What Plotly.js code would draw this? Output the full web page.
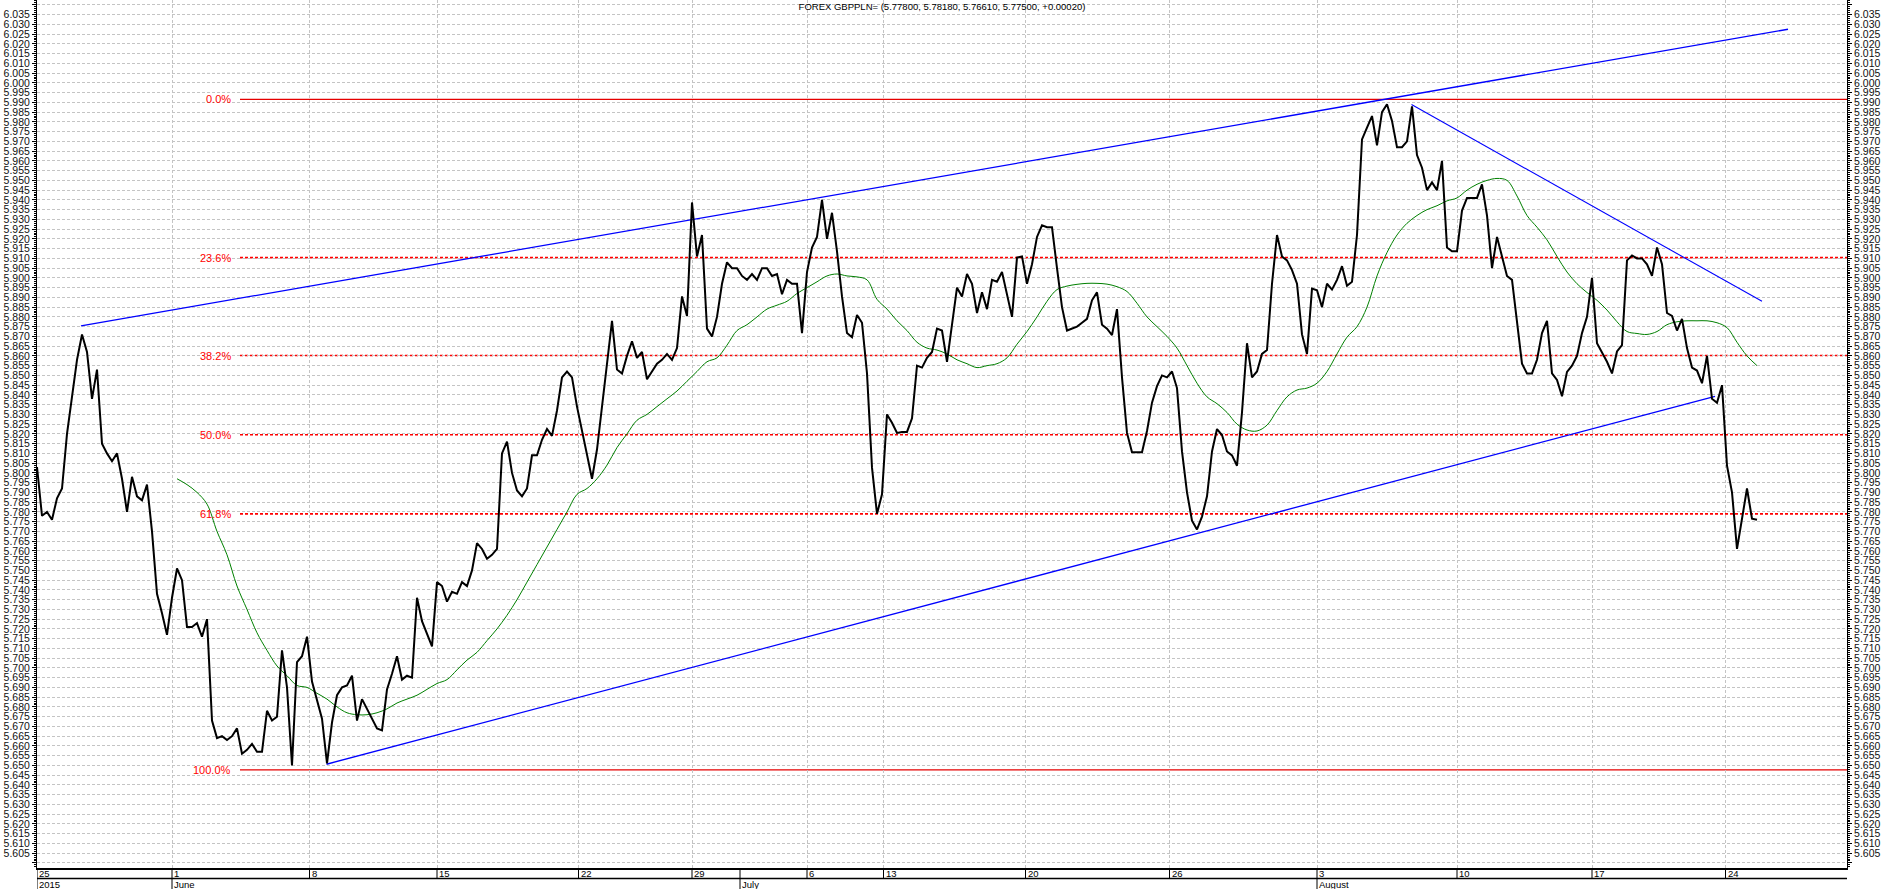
<!DOCTYPE html>
<html>
<head>
<meta charset="utf-8">
<script src="https://cdn.plot.ly/plotly-3.0.1.min.js"></script>
<style>
  html, body { margin: 0; padding: 0; background: #fff; }
  #chart { width: 1883px; height: 889px; }
</style>
</head>
<body>
<div id="chart"></div>
<script>
// ---------------- DATA ----------------
// closing prices, one value per bar (bar index 0 = first bar of 25 May 2015)
const price = [
5.803,5.778,5.780,5.776,5.787,5.792,5.820,5.840,5.858,5.871,
5.862,5.838,5.853,5.815,5.810,5.806,5.810,5.797,5.780,5.798,
5.788,5.786,5.794,5.770,5.738,5.728,5.717,5.736,5.751,5.745,
5.721,5.721,5.723,5.716,5.725,5.673,5.664,5.665,5.663,5.665,
5.669,5.656,5.658,5.661,5.657,5.657,5.678,5.673,5.675,5.709,
5.690,5.650,5.703,5.706,5.716,5.693,5.684,5.674,5.651,5.672,
5.686,5.690,5.691,5.696,5.673,5.684,5.679,5.674,5.669,5.668,
5.689,5.697,5.706,5.694,5.696,5.695,5.736,5.724,5.717,5.711,
5.744,5.742,5.734,5.739,5.738,5.744,5.742,5.750,5.764,5.761,
5.756,5.758,5.761,5.810,5.816,5.800,5.791,5.788,5.792,5.809,
5.809,5.817,5.8225,5.819,5.832,5.849,5.852,5.849,5.834,5.8215,
5.809,5.797,5.812,5.834,5.856,5.878,5.853,5.851,5.860,5.8675,
5.859,5.862,5.848,5.852,5.856,5.858,5.861,5.858,5.864,5.8905,
5.8805,5.9387,5.911,5.922,5.874,5.870,5.880,5.897,5.908,5.905,
5.905,5.901,5.899,5.902,5.899,5.905,5.905,5.901,5.902,5.8916,
5.899,5.897,5.897,5.8717,5.903,5.9156,5.921,5.940,5.920,5.9334,
5.9136,5.8905,5.8717,5.8696,5.881,5.877,5.851,5.8027,5.779,5.789,
5.830,5.8257,5.8205,5.821,5.821,5.828,5.855,5.854,5.859,5.862,
5.874,5.873,5.857,5.876,5.895,5.8905,5.902,5.897,5.882,5.8926,
5.884,5.899,5.898,5.903,5.8916,5.880,5.9104,5.911,5.897,5.907,
5.921,5.927,5.926,5.926,5.905,5.885,5.873,5.874,5.875,5.877,
5.879,5.8885,5.8926,5.876,5.874,5.8707,5.884,5.849,5.8205,5.8106,
5.8106,5.8106,5.8215,5.836,5.8445,5.850,5.849,5.852,5.8435,5.811,
5.790,5.7755,5.771,5.7776,5.788,5.811,5.8225,5.8194,5.811,5.809,
5.8037,5.831,5.8665,5.849,5.852,5.861,5.863,5.897,5.922,5.911,
5.909,5.904,5.897,5.871,5.861,5.8945,5.8937,5.885,5.897,5.894,
5.899,5.906,5.896,5.898,5.922,5.971,5.977,5.983,5.968,5.985,
5.989,5.9805,5.967,5.967,5.970,5.988,5.963,5.9565,5.945,5.949,
5.945,5.960,5.9156,5.9136,5.9136,5.9345,5.941,5.941,5.941,5.948,
5.932,5.905,5.921,5.911,5.901,5.899,5.877,5.856,5.851,5.851,
5.858,5.8717,5.878,5.851,5.8477,5.8393,5.8518,5.855,5.860,5.8717,
5.880,5.900,5.8665,5.8617,5.857,5.851,5.8623,5.8655,5.909,5.9115,
5.910,5.910,5.907,5.901,5.9156,5.907,5.882,5.8805,5.873,5.879,
5.864,5.854,5.8525,5.846,5.860,5.838,5.836,5.845,5.8037,5.790,
5.761,5.7765,5.792,5.7765,5.776
];

// moving average (green), read every second bar starting at bar 28
const maStartBar = 28;
const maBarStep = 2;
const maValues = [
5.797,5.794,5.790,5.784,5.770,5.758,5.742,5.730,5.718,5.709,
5.701,5.696,5.691,5.690,5.687,5.684,5.680,5.677,5.676,5.676,
5.677,5.679,5.682,5.684,5.686,5.689,5.692,5.694,5.699,5.704,
5.708,5.714,5.720,5.727,5.735,5.744,5.753,5.762,5.771,5.780,
5.789,5.792,5.797,5.804,5.813,5.820,5.827,5.830,5.834,5.838,
5.842,5.847,5.852,5.857,5.859,5.8655,5.873,5.876,5.880,5.884,
5.886,5.888,5.892,5.895,5.898,5.901,5.902,5.901,5.9005,5.899,
5.889,5.884,5.878,5.873,5.867,5.864,5.863,5.861,5.858,5.856,
5.854,5.855,5.856,5.859,5.866,5.8725,5.880,5.888,5.894,5.8958,
5.8967,5.8972,5.8972,5.8968,5.8955,5.893,5.887,5.880,5.875,5.870,
5.864,5.855,5.846,5.839,5.8355,5.831,5.825,5.822,5.8215,5.8245,
5.832,5.839,5.8425,5.8435,5.846,5.852,5.861,5.8696,5.875,5.885,
5.901,5.913,5.922,5.928,5.932,5.935,5.937,5.9395,5.941,5.945,
5.948,5.950,5.951,5.950,5.942,5.932,5.926,5.9195,5.911,5.903,
5.897,5.8925,5.8885,5.8835,5.8775,5.8725,5.8715,5.871,5.8725,5.876,
5.8775,5.878,5.878,5.878,5.877,5.8745,5.867,5.860,5.855
];

// trend lines (bar index, price)
const upperLineBars = [8.8, 350.2];
const upperLineVals = [5.8754, 6.0275];
const lowerLineBars = [57.9, 335.6];
const lowerLineVals = [5.6506, 5.8393];
const downLineBars  = [274.9, 345.0];
const downLineVals  = [5.9889, 5.8880];

// Fibonacci retracement levels
const fibLabels = ['0.0%', '23.6%', '38.2%', '50.0%', '61.8%', '100.0%'];
const fibLevels = [5.9915, 5.9104, 5.8602, 5.8196, 5.7790, 5.6477];
const fibSolid  = [true, false, false, false, false, true];
const fibStartBar = 40.6;

// time axis
const weekBars   = [0, 27, 54.5, 80, 108.3, 131, 154, 169.3, 197.7, 226.5, 256, 284, 311, 337.7];
const weekLabels = ['25', '1', '8', '15', '22', '29', '6', '13', '20', '26', '3', '10', '17', '24'];
const monthBars   = [0, 27, 140.6, 256];
const monthLabels = ['2015', 'June', 'July', 'August'];

// price axis: grid every 0.005, labelled from 5.605 to 6.035
const yGridFrom = 5.600, yGridTo = 6.040, yGridStep = 0.005;
const yLabelFrom = 5.605, yLabelTo = 6.035;

const titleText = 'FOREX GBPPLN= (5.77800, 5.78180, 5.76610, 5.77500, +0.00020)';

// ---------------- CHART ----------------
const W = 1883, H = 889;
const M = { l: 37, r: 36, t: 0, b: 21 };
const plotH = H - M.t - M.b;
const xMax = 362;
const yRange = [5.5974, 6.0425];
const FONT = 'Liberation Sans, Arial, sans-serif';
const pyBelow = px => -px / plotH;

const bars = price.map((_, i) => i);
const maBars = maValues.map((_, k) => maStartBar + k * maBarStep);

const yTickVals = [], yTickText = [];
for (let k = 0; yGridFrom + k * yGridStep <= yGridTo + 1e-9; k++) {
  const v = +(yGridFrom + k * yGridStep).toFixed(3);
  yTickVals.push(v);
  yTickText.push(v >= yLabelFrom - 1e-9 && v <= yLabelTo + 1e-9 ? v.toFixed(3) : '');
}

const traces = [
  { x: maBars, y: maValues, type: 'scatter', mode: 'lines',
    line: { color: '#008000', width: 1, shape: 'spline' }, hoverinfo: 'skip', showlegend: false },
  { x: upperLineBars, y: upperLineVals, type: 'scatter', mode: 'lines',
    line: { color: '#0000ff', width: 1.3 }, hoverinfo: 'skip', showlegend: false },
  { x: lowerLineBars, y: lowerLineVals, type: 'scatter', mode: 'lines',
    line: { color: '#0000ff', width: 1.3 }, hoverinfo: 'skip', showlegend: false },
  { x: downLineBars, y: downLineVals, type: 'scatter', mode: 'lines',
    line: { color: '#0000ff', width: 1.1 }, hoverinfo: 'skip', showlegend: false },
  { x: bars, y: price, type: 'scatter', mode: 'lines',
    line: { color: '#000000', width: 2 }, showlegend: false },
  { x: [bars[0]], y: [price[0]], yaxis: 'y2', type: 'scatter', mode: 'markers',
    marker: { opacity: 0 }, hoverinfo: 'skip', showlegend: false }
];

const shapes = [];
const annotations = [];

fibLevels.forEach((lv, k) => {
  shapes.push({
    type: 'line', layer: 'below', xref: 'x', yref: 'y',
    x0: fibStartBar, x1: xMax, y0: lv, y1: lv,
    line: fibSolid[k] ? { color: '#e60000', width: 1.2 }
                      : { color: '#ff0000', width: 1.6, dash: '3px,2px' }
  });
  annotations.push({
    xref: 'x', yref: 'y', x: fibStartBar - 1.4, y: lv,
    xanchor: 'right', yanchor: 'middle', showarrow: false,
    text: fibLabels[k], font: { family: FONT, size: 11, color: '#ff0000' }
  });
});

// bottom time axis: two rows
shapes.push({ type: 'line', xref: 'paper', yref: 'paper', x0: 0, x1: 1,
  y0: pyBelow(10.5), y1: pyBelow(10.5), line: { color: '#000', width: 1.5 }, layer: 'above' });
const rowOneSeps = weekBars.concat([monthBars[2]]);
rowOneSeps.forEach(b => {
  shapes.push({ type: 'line', xref: 'x', yref: 'paper', x0: b, x1: b,
    y0: 0, y1: pyBelow(10.5), line: { color: '#000', width: 1 }, layer: 'above' });
});
monthBars.forEach(b => {
  shapes.push({ type: 'line', xref: 'x', yref: 'paper', x0: b, x1: b,
    y0: pyBelow(10.5), y1: pyBelow(22), line: { color: '#000', width: 1 }, layer: 'above' });
});
weekBars.forEach((b, k) => {
  annotations.push({ xref: 'x', yref: 'paper', x: b, y: pyBelow(5.2),
    xanchor: 'left', yanchor: 'middle', xshift: 0, showarrow: false,
    text: weekLabels[k], font: { family: FONT, size: 9.5, color: '#000' } });
});
monthBars.forEach((b, k) => {
  annotations.push({ xref: 'x', yref: 'paper', x: b, y: pyBelow(16.5),
    xanchor: 'left', yanchor: 'middle', xshift: 0, showarrow: false,
    text: monthLabels[k], font: { family: FONT, size: 9.5, color: '#000' } });
});

const yCommon = {
  range: yRange, autorange: false,
  tickmode: 'array', tickvals: yTickVals, ticktext: yTickText,
  ticks: 'outside', ticklen: 4, tickwidth: 1, tickcolor: '#000',
  showline: true, linecolor: '#000', linewidth: 1, zeroline: false,
  tickfont: { family: FONT, size: 10.5, color: '#111' },
  minor: { dtick: 0.001, tick0: 0, ticks: 'outside', ticklen: 2, tickcolor: '#000', tickwidth: 1, showgrid: false },
  fixedrange: true
};

const layout = {
  width: W, height: H,
  margin: M,
  paper_bgcolor: '#ffffff', plot_bgcolor: '#ffffff',
  showlegend: false,
  title: { text: titleText, x: 0.5, xref: 'paper', xanchor: 'center',
           y: 1 - 7 / H, yref: 'container', yanchor: 'middle',
           font: { family: FONT, size: 9.5, color: '#000' } },
  xaxis: {
    range: [0, xMax], autorange: false,
    tickmode: 'array', tickvals: weekBars, showticklabels: false, ticks: '',
    showgrid: true, gridcolor: '#c4c4c4', griddash: '3px,2px', gridwidth: 1,
    showline: true, linecolor: '#000', linewidth: 1.5, zeroline: false, fixedrange: true
  },
  yaxis: Object.assign({}, yCommon, {
    side: 'left', showgrid: true, gridcolor: '#c4c4c4', griddash: '3px,2px', gridwidth: 1
  }),
  yaxis2: Object.assign({}, yCommon, {
    side: 'right', overlaying: 'y', showgrid: false
  }),
  shapes: shapes,
  annotations: annotations
};

Plotly.newPlot('chart', traces, layout, { displayModeBar: false, responsive: false });
</script>
</body>
</html>
